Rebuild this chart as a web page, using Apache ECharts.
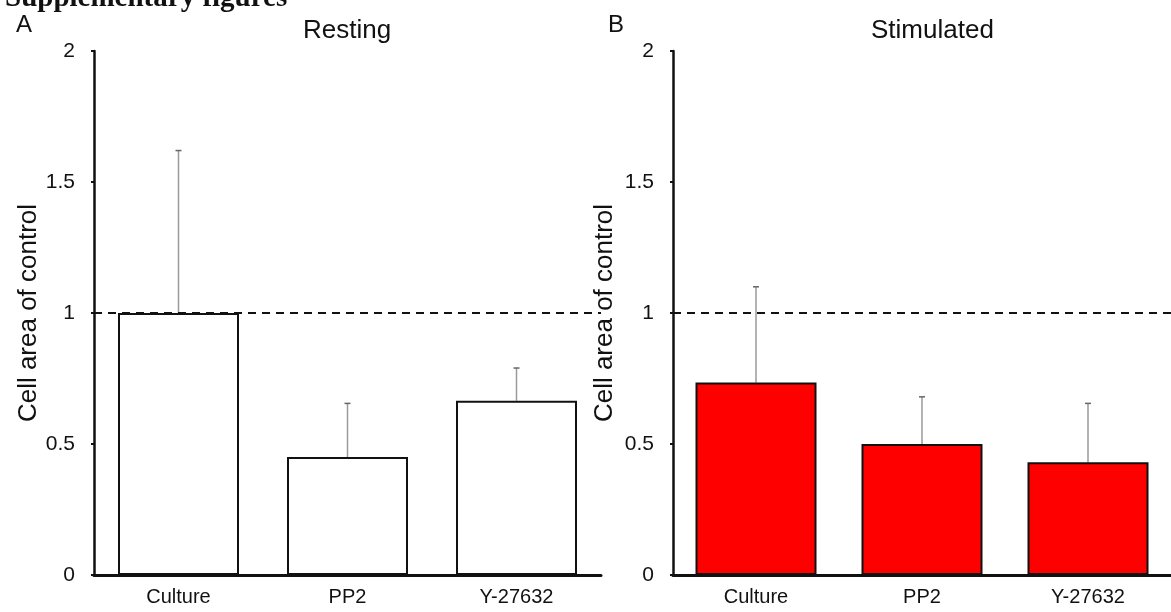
<!DOCTYPE html>
<html>
<head>
<meta charset="utf-8">
<script src="https://cdn.jsdelivr.net/npm/echarts@6/dist/echarts.min.js"></script>
<style>
  html, body { margin: 0; padding: 0; background: #fff; }
  #chart { width: 1171px; height: 612px; }
</style>
</head>
<body>
<div id="chart"></div>
<script>
const categories = ['Culture', 'PP2', 'Y-27632']
const yTicks = [0, 0.5, 1, 1.5, 2]
// mean and upper error (mean + SD)
const restingMean = [1.0, 0.45, 0.665]
const restingUpper = [1.62, 0.655, 0.79]
const stimMean = [0.735, 0.50, 0.43]
const stimUpper = [1.10, 0.68, 0.655]
const controlLevel = 1

const font = 'Liberation Sans, Arial, sans-serif'

function errorSeries (idx, mean, upper) {
  return {
    type: 'custom',
    xAxisIndex: idx,
    yAxisIndex: idx,
    z: 1,
    data: categories.map((c, i) => [i, mean[i], upper[i]]),
    renderItem (params, api) {
      const lo = api.coord([api.value(0), api.value(1)])
      const hi = api.coord([api.value(0), api.value(2)])
      const style = { stroke: '#9a9a9a', lineWidth: 1.5 }
      return {
        type: 'group',
        children: [
          { type: 'line', shape: { x1: lo[0], y1: lo[1], x2: hi[0], y2: hi[1] }, style },
          { type: 'line', shape: { x1: hi[0] - 3, y1: hi[1], x2: hi[0] + 3, y2: hi[1] }, style: { stroke: '#666', lineWidth: 1.5 } }
        ]
      }
    }
  }
}

function barSeries (idx, values, fill) {
  return {
    type: 'bar',
    xAxisIndex: idx,
    yAxisIndex: idx,
    data: values,
    barWidth: 121,
    z: 2,
    itemStyle: { color: fill, borderColor: '#111', borderWidth: 2 },
    markLine: {
      silent: true,
      symbol: 'none',
      label: { show: false },
      lineStyle: { color: '#111', type: [8, 6], width: 2 },
      data: [{ yAxis: controlLevel }]
    }
  }
}

function xAxis (idx) {
  return {
    type: 'category',
    gridIndex: idx,
    data: categories,
    axisLine: { lineStyle: { color: '#111', width: 3 } },
    axisTick: { show: false },
    axisLabel: { color: '#111', fontSize: 20, fontFamily: font, margin: 12 }
  }
}

function yAxis (idx) {
  return {
    type: 'value',
    gridIndex: idx,
    min: yTicks[0],
    max: yTicks[yTicks.length - 1],
    interval: 0.5,
    name: 'Cell area of control',
    nameLocation: 'middle',
    nameRotate: 90,
    nameGap: idx === 0 ? 52 : 55,
    nameTextStyle: { color: '#111', fontSize: 26, fontFamily: font },
    splitLine: { show: false },
    axisLine: { show: true, lineStyle: { color: '#111', width: 2.5 } },
    axisTick: { show: true, length: 3, lineStyle: { color: '#111', width: 2 } },
    axisLabel: { color: '#111', fontSize: 21, fontFamily: font, margin: 19 }
  }
}

const option = {
  backgroundColor: '#fff',
  animation: false,
  title: [
    { text: 'Supplementary figures', left: 0, top: -21, textStyle: { fontFamily: 'Liberation Serif, Times New Roman, serif', fontWeight: 'bold', fontSize: 29, color: '#111' } },
    { text: 'A', left: 11, top: 8, textStyle: { fontFamily: font, fontWeight: 'normal', fontSize: 24, color: '#111' } },
    { text: 'B', left: 603, top: 8, textStyle: { fontFamily: font, fontWeight: 'normal', fontSize: 24, color: '#111' } },
    { text: 'Resting', left: 298, top: 13, textStyle: { fontFamily: font, fontWeight: 'normal', fontSize: 26, color: '#111' } },
    { text: 'Stimulated', left: 866, top: 13, textStyle: { fontFamily: font, fontWeight: 'normal', fontSize: 26, color: '#111' } }
  ],
  grid: [
    { left: 94, top: 51, width: 507, height: 524 },
    { left: 673, top: 51, width: 509, height: 524 }
  ],
  xAxis: [xAxis(0), xAxis(1)],
  yAxis: [yAxis(0), yAxis(1)],
  series: [
    barSeries(0, restingMean, '#ffffff'),
    errorSeries(0, restingMean, restingUpper),
    barSeries(1, stimMean, '#ff0000'),
    errorSeries(1, stimMean, stimUpper)
  ]
}

const chart = echarts.init(document.getElementById('chart'))
chart.setOption(option)
</script>
</body>
</html>
